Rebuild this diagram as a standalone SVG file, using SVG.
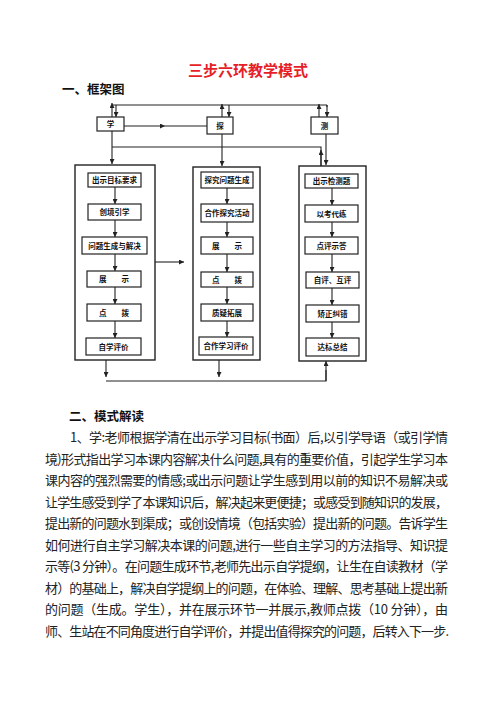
<svg xmlns="http://www.w3.org/2000/svg" width="496" height="702" viewBox="0 0 496 702">
<style>
.t{font-family:"Noto Sans CJK SC","Noto Sans",sans-serif}
.title{fill:#e61e28;font-size:15px;font-weight:bold}
.h{fill:#111;font-size:12.5px;font-weight:bold}
.p{fill:#222;font-size:13px}
.box{fill:#fff;stroke:#222;stroke-width:1.2}
.cont{fill:none;stroke:#222;stroke-width:1.4}
.bt{fill:#111;font-size:7.5px;font-weight:bold;text-anchor:middle}
.ln{fill:none;stroke:#222;stroke-width:1.1}
.ar{fill:none;stroke:#222;stroke-width:1.1;marker-end:url(#ah)}
</style>
<defs>
<marker id="ah" viewBox="0 0 10 10" refX="10" refY="5" markerWidth="6" markerHeight="5" markerUnits="userSpaceOnUse" orient="auto">
<path d="M0,0 L10,5 L0,10 z" fill="#222"/>
</marker>
</defs>
<rect width="496" height="702" fill="#fff"/>
<text class="t title" x="248" y="76" text-anchor="middle">三步六环教学模式</text>
<text class="t h" x="62" y="94">一、框架图</text>

<g id="connectors">
<path class="ln" d="M112,105 L327,105"/>
<path class="ar" d="M112,117 L112,103"/>
<path class="ar" d="M116,105 L116,117"/>
<path class="ar" d="M222,117 L222,104"/>
<path class="ar" d="M229,105 L229,117"/>
<path class="ar" d="M319,117 L319,104"/>
<path class="ln" d="M327,105 L327,107"/>
<path class="ar" d="M327,105 L327,117"/>
<path class="ar" d="M124,126 L165,126"/>
<path class="ln" d="M165,126 L207,126"/>
<path class="ar" d="M112,131 L112,164"/>
<path class="ln" d="M112,147 L321,147 L321,166"/>
<path class="ar" d="M321,166 L321,150"/>
<path class="ar" d="M222,134 L222,166"/>
<path class="ar" d="M326,134 L326,165"/>
<path class="ar" d="M155,262 L184,262"/>
<path class="ar" d="M106,360 L106,377"/>
<path class="ar" d="M219,360 L219,377"/>
<path class="ln" d="M106,381 L326,381 L326,370"/>
<path class="ar" d="M326,381 L326,361"/>
<path class="ar" d="M115,187 L115,204"/>
<path class="ar" d="M115,220 L115,237"/>
<path class="ar" d="M115,254 L115,271"/>
<path class="ar" d="M115,287 L115,304"/>
<path class="ar" d="M115,321 L115,338"/>
<path class="ar" d="M227,188 L227,204"/>
<path class="ar" d="M227,222 L227,237"/>
<path class="ar" d="M227,254 L227,272"/>
<path class="ar" d="M227,287 L227,304"/>
<path class="ar" d="M227,321 L227,337"/>
<path class="ar" d="M332,188 L332,205"/>
<path class="ar" d="M332,222 L332,237"/>
<path class="ar" d="M332,254 L332,272"/>
<path class="ar" d="M332,288 L332,305"/>
<path class="ar" d="M332,322 L332,338"/>
</g>

<g id="xue"><rect class="box" x="97" y="117" width="27" height="14"/><text class="t bt" x="110.5" y="127">学</text></g>
<g id="tan"><rect class="box" x="207" y="117" width="26" height="17"/><text class="t bt" x="220" y="128.5">探</text></g>
<g id="ce"><rect class="box" x="311" y="117" width="27" height="17"/><text class="t bt" x="324.5" y="128.5">测</text></g>

<g id="col-left"><rect class="cont" x="75" y="165" width="80" height="195"/></g>
<g id="col-mid"><rect class="cont" x="193" y="167" width="67" height="193"/></g>
<g id="col-right"><rect class="cont" x="299" y="166" width="67" height="195"/></g>

<g id="l1"><rect class="box" x="88" y="173" width="53" height="14"/><text class="t bt" x="114.5" y="183">出示目标要求</text></g>
<g id="l2"><rect class="box" x="88" y="204" width="53" height="16"/><text class="t bt" x="114.5" y="215">创境引学</text></g>
<g id="l3"><rect class="box" x="82" y="237" width="65" height="17"/><text class="t bt" x="114.5" y="248.5">问题生成与解决</text></g>
<g id="l4"><rect class="box" x="87" y="271" width="54" height="16"/><text class="t bt" x="114" y="282" xml:space="preserve">展　　示</text></g>
<g id="l5"><rect class="box" x="87" y="304" width="54" height="17"/><text class="t bt" x="114" y="315.5" xml:space="preserve">点　　拨</text></g>
<g id="l6"><rect class="box" x="86" y="338" width="55" height="17"/><text class="t bt" x="113.5" y="349.5">自学评价</text></g>

<g id="m1"><rect class="box" x="201" y="172" width="52" height="16"/><text class="t bt" x="227" y="183">探究问题生成</text></g>
<g id="m2"><rect class="box" x="201" y="204" width="52" height="18"/><text class="t bt" x="227" y="216">合作探究活动</text></g>
<g id="m3"><rect class="box" x="201" y="237" width="52" height="17"/><text class="t bt" x="227" y="248.5" xml:space="preserve">展　　示</text></g>
<g id="m4"><rect class="box" x="201" y="272" width="52" height="15"/><text class="t bt" x="227" y="282.5" xml:space="preserve">点　　拨</text></g>
<g id="m5"><rect class="box" x="201" y="304" width="52" height="17"/><text class="t bt" x="227" y="315.5">质疑拓展</text></g>
<g id="m6"><rect class="box" x="199" y="337" width="54" height="18"/><text class="t bt" x="226" y="349">合作学习评价</text></g>

<g id="r1"><rect class="box" x="305" y="174" width="53" height="14"/><text class="t bt" x="331.5" y="184">出示检测题</text></g>
<g id="r2"><rect class="box" x="305" y="205" width="53" height="17"/><text class="t bt" x="331.5" y="216.5">以考代练</text></g>
<g id="r3"><rect class="box" x="305" y="237" width="53" height="17"/><text class="t bt" x="331.5" y="248.5">点评示答</text></g>
<g id="r4"><rect class="box" x="306" y="272" width="53" height="16"/><text class="t bt" x="332.5" y="283">自评、互评</text></g>
<g id="r5"><rect class="box" x="306" y="305" width="53" height="17"/><text class="t bt" x="332.5" y="316.5">矫正纠错</text></g>
<g id="r6"><rect class="box" x="306" y="338" width="53" height="18"/><text class="t bt" x="332.5" y="350">达标总结</text></g>

<text class="t h" x="69" y="421">二、模式解读</text>
<g class="t p">
<text x="70" y="442" textLength="378" lengthAdjust="spacing">1、学:老师根据学清在出示学习目标(书面）后,以引学导语（或引学情</text>
<text x="45" y="463.5" textLength="403" lengthAdjust="spacing">境)形式指出学习本课内容解决什么问题,具有的重要价值，引起学生学习本</text>
<text x="45" y="485" textLength="403" lengthAdjust="spacing">课内容的强烈需要的情感;或出示问题让学生感到用以前的知识不易解决或</text>
<text x="45" y="506.5" textLength="403" lengthAdjust="spacing">让学生感受到学了本课知识后，解决起来更便捷；或感受到随知识的发展，</text>
<text x="45" y="528" textLength="403" lengthAdjust="spacing">提出新的问题水到渠成；或创设情境（包括实验）提出新的问题。告诉学生</text>
<text x="45" y="549.5" textLength="403" lengthAdjust="spacing">如何进行自主学习解决本课的问题,进行一些自主学习的方法指导、知识提</text>
<text x="45" y="571" textLength="403" lengthAdjust="spacing">示等(3 分钟）。在问题生成环节,老师先出示自学提纲，让生在自读教材（学</text>
<text x="45" y="592.5" textLength="403" lengthAdjust="spacing">材）的基础上，解决自学提纲上的问题，在体验、理解、思考基础上提出新</text>
<text x="45" y="614" textLength="403" lengthAdjust="spacing">的问题（生成。学生），并在展示环节一并展示,教师点拨（10 分钟），由</text>
<text x="45" y="635.5" textLength="404" lengthAdjust="spacing">师、生站在不同角度进行自学评价，并提出值得探究的问题，后转入下一步.</text>
</g>
</svg>
